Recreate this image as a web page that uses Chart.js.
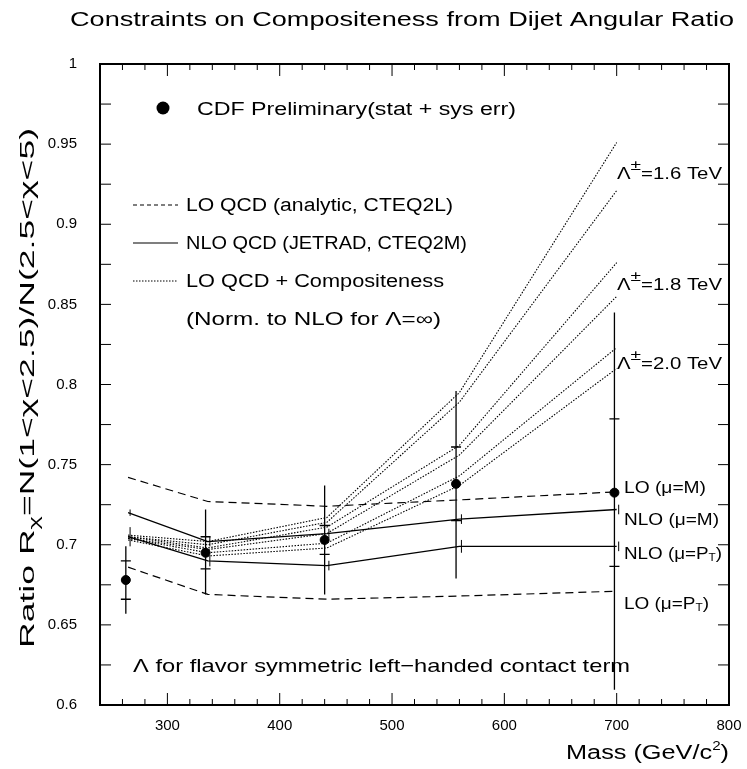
<!DOCTYPE html>
<html>
<head>
<meta charset="utf-8">
<script src="https://cdn.jsdelivr.net/npm/chart.js@4.4.1/dist/chart.umd.min.js"></script>
<style>
  html, body { margin: 0; padding: 0; background: #fff; }
  canvas { display: block; }
</style>
</head>
<body>
<canvas id="chart" width="747" height="769"></canvas>
<script>
// measured points (CDF preliminary)
const dataMass = [263, 334, 440, 557, 698];
const ratio = [0.678, 0.695, 0.703, 0.738, 0.7325];
const statErr = [0.012, 0.010, 0.009, 0.023, 0.046];
const totErrUp = [0.021, 0.027, 0.034, 0.058, 0.1125];
const totErrDown = [0.021, 0.026, 0.034, 0.059, 0.123];

// theory curves
const theoryMass = [265, 336, 442, 560, 700];
const loMuM = [0.742, 0.727, 0.724, 0.728, 0.733];
const loMuPt = [0.686, 0.669, 0.666, 0.668, 0.671];
const nloMuM = [0.720, 0.702, 0.707, 0.716, 0.722];
const nloMuPt = [0.705, 0.690, 0.687, 0.699, 0.699];
const nloMuMErr = [0.002, 0.003, 0.003, 0.003, 0.003];
const nloMuPtErr = [0.006, 0.0035, 0.003, 0.004, 0.003];

// LO + compositeness, Lambda = 1.6 / 1.8 / 2.0 TeV (+ and - interference)
const comp16a = [0.706, 0.702, 0.717, 0.795, 0.951];
const comp16b = [0.705, 0.700, 0.714, 0.789, 0.921];
const comp18a = [0.705, 0.698, 0.711, 0.762, 0.876];
const comp18b = [0.704, 0.697, 0.707, 0.756, 0.855];
const comp20a = [0.704, 0.695, 0.701, 0.743, 0.823];
const comp20b = [0.703, 0.693, 0.698, 0.737, 0.810];

const xTicksLabelled = [300, 400, 500, 600, 700, 800];
const FONT = '"Liberation Sans", Arial, sans-serif';

const pts = (xs, ys) => xs.map((x, i) => ({ x: x, y: ys[i] }));

function curve(ys, dash, width) {
    return {
        data: pts(theoryMass, ys),
        borderColor: '#000',
        borderWidth: width,
        borderDash: dash,
        pointRadius: 0,
        tension: 0,
        fill: false
    };
}

// draw text runs (sub/superscripts), squeezed to a given width
function runs(ctx, parts, x, y, width) {
    let total = 0;
    parts.forEach(p => {
        ctx.font = `${p.s}px ${FONT}`;
        p.w = ctx.measureText(p.t).width;
        total += p.w;
    });
    ctx.save();
    ctx.translate(x, y);
    if (width) ctx.scale(width / total, 1);
    ctx.textAlign = 'left';
    ctx.textBaseline = 'alphabetic';
    ctx.fillStyle = '#000';
    let cx = 0;
    parts.forEach(p => {
        ctx.font = `${p.s}px ${FONT}`;
        ctx.fillText(p.t, cx, p.dy || 0);
        cx += p.w;
    });
    ctx.restore();
}

const framePlugin = {
    id: 'frame',
    afterDatasetsDraw(chart) {
        const { ctx, chartArea: a, scales: { x, y } } = chart;
        ctx.save();
        ctx.strokeStyle = '#000';
        ctx.fillStyle = '#000';

        // error bars on the data
        ctx.lineWidth = 1.3;
        dataMass.forEach((m, i) => {
            const px = x.getPixelForValue(m);
            const top = Math.max(a.top, y.getPixelForValue(ratio[i] + totErrUp[i]));
            const bot = Math.min(a.bottom, y.getPixelForValue(ratio[i] - totErrDown[i]));
            ctx.beginPath();
            ctx.moveTo(px, top); ctx.lineTo(px, bot);
            [ratio[i] + statErr[i], ratio[i] - statErr[i]].forEach(v => {
                const py = y.getPixelForValue(v);
                ctx.moveTo(px - 5, py); ctx.lineTo(px + 5, py);
            });
            ctx.stroke();
        });

        // small error ticks on NLO curves
        ctx.lineWidth = 1;
        [[nloMuM, nloMuMErr], [nloMuPt, nloMuPtErr]].forEach(([vals, errs]) => {
            theoryMass.forEach((m, i) => {
                const px = x.getPixelForValue(m) + 2;
                ctx.beginPath();
                ctx.moveTo(px, y.getPixelForValue(vals[i] + errs[i]));
                ctx.lineTo(px, y.getPixelForValue(vals[i] - errs[i]));
                ctx.stroke();
            });
        });

        // frame and inward ticks
        ctx.lineWidth = 2;
        ctx.strokeRect(a.left, a.top, a.right - a.left, a.bottom - a.top);
        ctx.lineWidth = 1;
        ctx.beginPath();
        x.ticks.forEach(t => {
            const px = x.getPixelForValue(t.value);
            const len = t.value % 100 === 0 ? 12 : 6;
            ctx.moveTo(px, a.bottom); ctx.lineTo(px, a.bottom - len);
            ctx.moveTo(px, a.top); ctx.lineTo(px, a.top + len);
        });
        y.ticks.forEach(t => {
            const py = y.getPixelForValue(t.value);
            ctx.moveTo(a.left, py); ctx.lineTo(a.left + 11, py);
            ctx.moveTo(a.right, py); ctx.lineTo(a.right - 11, py);
        });
        ctx.stroke();

        // title and axis titles
        runs(ctx, [{ t: 'Constraints on Compositeness from Dijet Angular Ratio', s: 20 }], 70, 26, 664);
        runs(ctx, [{ t: 'Mass (GeV/c', s: 20 }, { t: '2', s: 12, dy: -9 }, { t: ')', s: 20 }], 566, 759, 163);
        ctx.save();
        ctx.translate(34, 648);
        ctx.rotate(-Math.PI / 2);
        runs(ctx, [
            { t: 'Ratio R', s: 21 },
            { t: 'χ', s: 15, dy: 5 },
            { t: '=N(1<χ<2.5)/N(2.5<χ<5)', s: 21 }
        ], 0, 0, 520);
        ctx.restore();

        // legend
        ctx.beginPath();
        ctx.arc(163, 108, 6.5, 0, Math.PI * 2);
        ctx.fill();
        runs(ctx, [{ t: 'CDF Preliminary(stat + sys err)', s: 18 }], 197, 115, 319);

        ctx.lineWidth = 1.2;
        ctx.setLineDash([4, 3]);
        ctx.beginPath(); ctx.moveTo(133, 205); ctx.lineTo(178, 205); ctx.stroke();
        ctx.setLineDash([]);
        ctx.beginPath(); ctx.moveTo(133, 243); ctx.lineTo(178, 243); ctx.stroke();
        ctx.lineWidth = 1.1;
        ctx.setLineDash([1.5, 1.5]);
        ctx.beginPath(); ctx.moveTo(133, 281); ctx.lineTo(178, 281); ctx.stroke();
        ctx.setLineDash([]);
        runs(ctx, [{ t: 'LO QCD (analytic, CTEQ2L)', s: 18 }], 186, 211, 267);
        runs(ctx, [{ t: 'NLO QCD (JETRAD, CTEQ2M)', s: 18 }], 186, 249, 281);
        runs(ctx, [{ t: 'LO QCD + Compositeness', s: 18 }], 186, 287, 258);
        runs(ctx, [{ t: '(Norm. to NLO for Λ=∞)', s: 18 }], 186, 325, 255);

        // curve labels
        [['1.6', 179], ['1.8', 290], ['2.0', 369]].forEach(([v, by]) => {
            runs(ctx, [
                { t: 'Λ', s: 16 },
                { t: '±', s: 15, dy: -9 },
                { t: '=' + v + ' TeV', s: 16 }
            ], 617, by, 105);
        });
        runs(ctx, [{ t: 'LO (μ=M)', s: 16 }], 624, 493, 82);
        runs(ctx, [{ t: 'NLO (μ=M)', s: 16 }], 624, 525, 95);
        runs(ctx, [{ t: 'NLO (μ=P', s: 16 }, { t: 'T', s: 10, dy: 2 }, { t: ')', s: 16 }], 624, 559, 98);
        runs(ctx, [{ t: 'LO (μ=P', s: 16 }, { t: 'T', s: 10, dy: 2 }, { t: ')', s: 16 }], 624, 609, 85);

        runs(ctx, [{ t: 'Λ for flavor symmetric left−handed contact term', s: 19 }], 133, 672, 497);
        ctx.restore();
    }
};

new Chart(document.getElementById('chart'), {
    type: 'line',
    data: {
        datasets: [
            curve(loMuM, [8, 5], 1.2),
            curve(loMuPt, [8, 5], 1.2),
            curve(nloMuM, [], 1.3),
            curve(nloMuPt, [], 1.3),
            curve(comp16a, [1.5, 1.5], 1.1),
            curve(comp16b, [1.5, 1.5], 1.1),
            curve(comp18a, [1.5, 1.5], 1.1),
            curve(comp18b, [1.5, 1.5], 1.1),
            curve(comp20a, [1.5, 1.5], 1.1),
            curve(comp20b, [1.5, 1.5], 1.1),
            {
                type: 'scatter',
                data: pts(dataMass, ratio),
                backgroundColor: '#000',
                borderColor: '#000',
                pointRadius: 4.5,
                pointHoverRadius: 4.5
            }
        ]
    },
    options: {
        responsive: false,
        animation: false,
        devicePixelRatio: 1,
        layout: { padding: { top: 64, right: 18, left: 0, bottom: 0 } },
        plugins: {
            legend: { display: false },
            tooltip: { enabled: false }
        },
        scales: {
            x: {
                type: 'linear',
                min: 240,
                max: 800,
                afterFit: s => { s.height = 64; },
                grid: { display: false },
                border: { display: false },
                ticks: {
                    stepSize: 20,
                    autoSkip: false,
                    maxRotation: 0,
                    padding: 4,
                    color: '#000',
                    font: { family: FONT, size: 15 },
                    callback: v => xTicksLabelled.includes(Math.round(v)) ? String(Math.round(v)) : ''
                }
            },
            y: {
                min: 0.6,
                max: 1,
                afterFit: s => { s.width = 100; },
                grid: { display: false },
                border: { display: false },
                ticks: {
                    stepSize: 0.025,
                    autoSkip: false,
                    padding: 15,
                    color: '#000',
                    font: { family: FONT, size: 15 },
                    callback: v => {
                        const k = Math.round(v * 40);
                        return k % 2 === 0 ? String(Number((k / 40).toFixed(2))) : '';
                    }
                }
            }
        }
    },
    plugins: [framePlugin]
});
</script>
</body>
</html>
